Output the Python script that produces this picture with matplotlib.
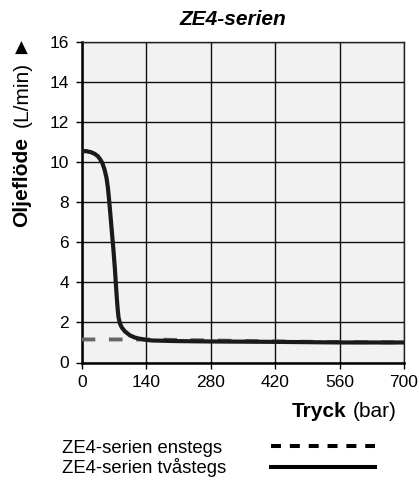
import matplotlib
matplotlib.use("Agg")
import matplotlib.pyplot as plt
from matplotlib.lines import Line2D

plt.rcParams["font.family"] = ["Liberation Sans", "DejaVu Sans"]

# tryck (bar) vs oljeflöde (L/min)
tva_x = [0, 10, 20, 28, 35, 40, 45, 50, 54, 57, 60, 63, 66, 69, 72, 74, 76, 78, 80, 83, 87, 94, 105, 115, 123,
         140, 152, 200, 280, 420, 560, 700]
tva_y = [10.55, 10.55, 10.5, 10.42, 10.3, 10.15, 9.95, 9.6, 9.2, 8.7, 8.0, 7.2, 6.4, 5.6, 4.7, 4.0, 3.3, 2.7, 2.25,
         1.95, 1.75, 1.55, 1.35, 1.25, 1.2, 1.13, 1.1, 1.07, 1.05, 1.03, 1.0, 1.0]
en_x = [0, 140, 280, 420, 560, 700]
en_y = [1.15, 1.15, 1.1, 1.05, 1.02, 1.0]
xticks = [0, 140, 280, 420, 560, 700]
yticks = [0, 2, 4, 6, 8, 10, 12, 14, 16]

W, H = 419, 480
fig = plt.figure(figsize=(W / 100, H / 100), dpi=100)
ax = fig.add_axes([81.7 / W, 1 - 362.5 / H, (404 - 81.7) / W, (362.5 - 42) / H])
ax.set_facecolor("#f2f2f2")
ax.set_xlim(0, 700); ax.set_ylim(0, 16)
ax.set_xticks(xticks); ax.set_yticks(yticks)
ax.grid(True, color="#111", lw=1.0)
ax.set_axisbelow(True)
for s in ("top", "right"):
    ax.spines[s].set_linewidth(1.0); ax.spines[s].set_color("#222")
for s in ("left", "bottom"):
    ax.spines[s].set_linewidth(1.8); ax.spines[s].set_color("black")
ax.tick_params(direction="out", length=4, width=1, labelsize=12.5, pad=5)

ax.plot(en_x, en_y, color="#666", lw=2.8, ls=(0, (3.5, 3.5)), zorder=3)
ax.plot(tva_x, tva_y, color="#1a1a1a", lw=3.0, solid_capstyle="round", solid_joinstyle="round", zorder=4)

ax.set_title("ZE4-serien", fontsize=15, fontweight="bold", fontstyle="italic", pad=12, x=0.47)

# y label: bold + regular + arrow
fig.text(22 / W, 1 - 227 / H, "Oljeflöde", rotation=90, ha="center", va="bottom", fontsize=15, fontweight="bold")
fig.text(22 / W, 1 - 127 / H, "(L/min)", rotation=90, ha="center", va="bottom", fontsize=15)
fig.text(21 / W, 1 - 47.5 / H, "▲", ha="center", va="center", fontsize=12, family="DejaVu Sans")

# x label
fig.text(291.7 / W, 1 - 416.7 / H, "Tryck", ha="left", va="baseline", fontsize=15, fontweight="bold")
fig.text(396.7 / W, 1 - 416.7 / H, "(bar)", ha="right", va="baseline", fontsize=15)

# legend below the plot
fig.text(62 / W, 1 - 453 / H, "ZE4-serien enstegs", ha="left", va="baseline", fontsize=13.3)
fig.text(62 / W, 1 - 473 / H, "ZE4-serien tvåstegs", ha="left", va="baseline", fontsize=13.3)
fig.add_artist(Line2D([270.7 / W, 375 / W], [1 - 445.7 / H, 1 - 445.7 / H], color="black", lw=2.9,
                      ls=(0, (2.48, 2.2))))
fig.add_artist(Line2D([270.7 / W, 375 / W], [1 - 467.3 / H, 1 - 467.3 / H], color="black", lw=2.9))

fig.savefig("out.png", dpi=100)
